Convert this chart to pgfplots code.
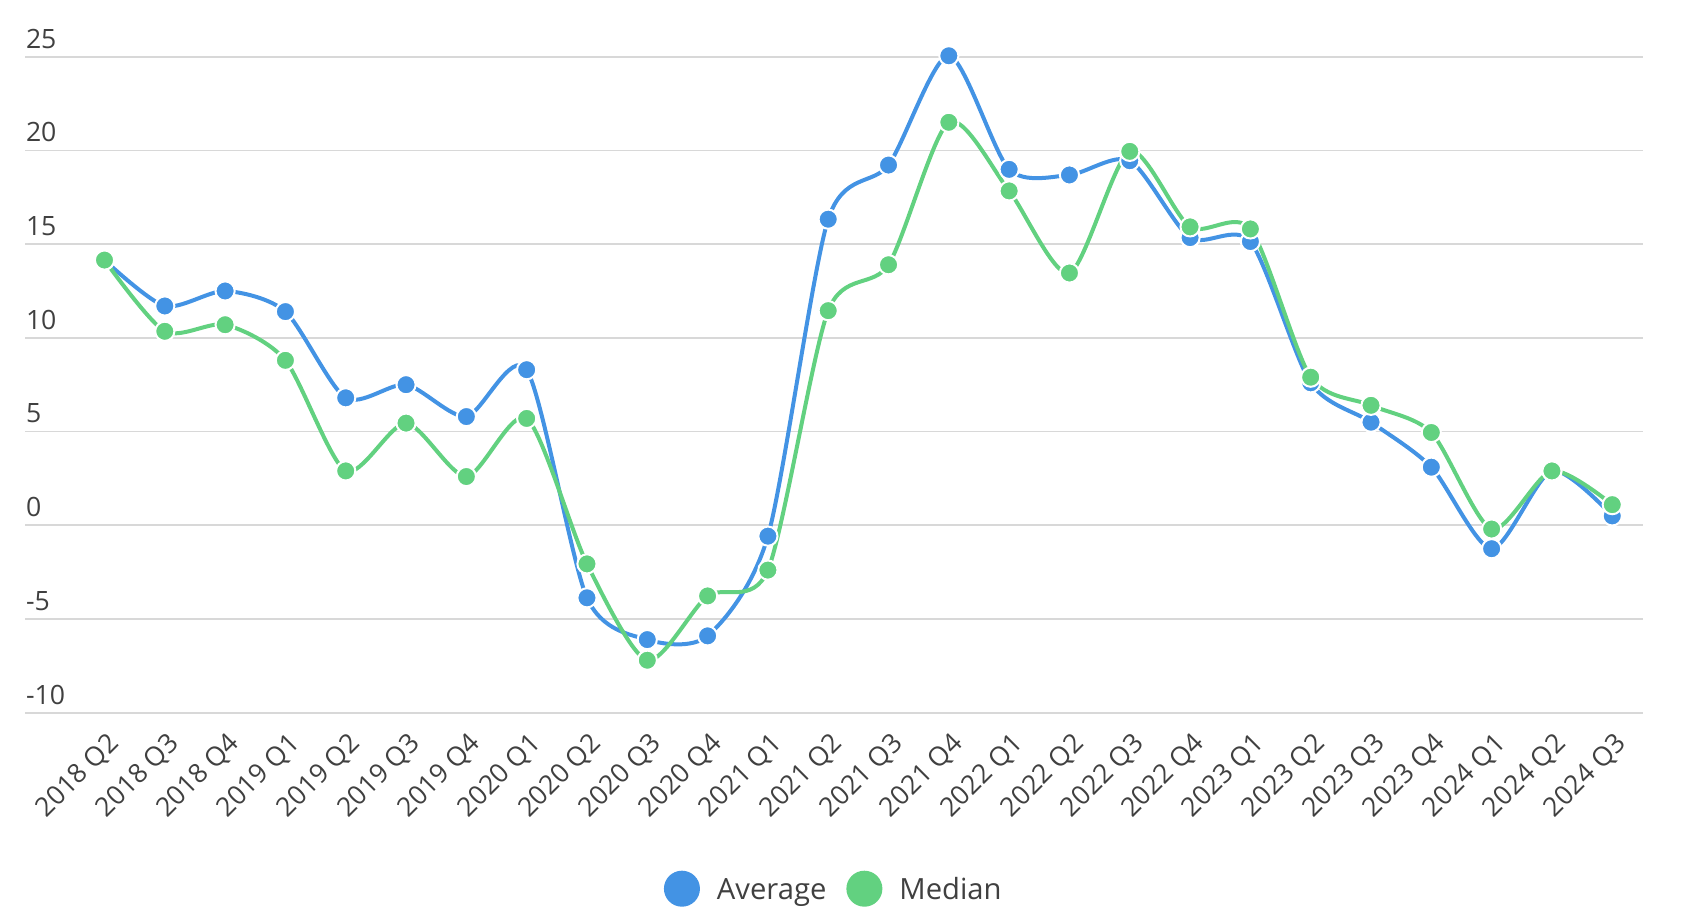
\documentclass[border=0pt]{standalone}
\usepackage{fontspec}
\setmainfont{Open Sans}
\usepackage{pgfplots}
\pgfplotsset{compat=1.18}
\definecolor{avgblue}{RGB}{67,147,228}
\definecolor{medgreen}{RGB}{98,209,128}
\definecolor{txt}{RGB}{64,64,64}
\definecolor{gridc}{RGB}{216,216,216}
\begin{document}
\begin{tikzpicture}
\useasboundingbox (-12.5pt,-101.65pt) rectangle (831.5pt,356.35pt);
\begin{axis}[
  at={(0pt,0pt)}, anchor=south west,
  width=809pt, height=328pt, scale only axis,
  xmin=-1.318, xmax=25.51, ymin=-10, ymax=25,
  axis line style={draw=none},
  ytick={-10,-5,0,5,10,15,20,25},
  yticklabels={-10,-5,0,5,10,15,20,25},
  ymajorgrids, major grid style={gridc, line width=0.85pt},
  major tick length=0pt, tick style={draw=none},
  xtick={0,...,25},
  xticklabels={2018 Q2,2018 Q3,2018 Q4,2019 Q1,2019 Q2,2019 Q3,2019 Q4,2020 Q1,2020 Q2,2020 Q3,2020 Q4,2021 Q1,2021 Q2,2021 Q3,2021 Q4,2022 Q1,2022 Q2,2022 Q3,2022 Q4,2023 Q1,2023 Q2,2023 Q3,2023 Q4,2024 Q1,2024 Q2,2024 Q3},
  xticklabel style={xshift=5.2pt, yshift=-13.3pt, rotate=45, anchor=east, inner sep=0pt, font=\fontsize{13.3}{16}\selectfont, text=txt},
  yticklabel style={anchor=base west, inner sep=0pt, xshift=0.3pt, yshift=4.35pt, font=\fontsize{13.3}{16}\selectfont, text=txt},
  clip=false,
  legend style={at={(0.3949,-0.2683)}, anchor=west, draw=none, fill=none, inner sep=0pt, outer sep=0pt,
    font=\fontsize{14.6}{17}\selectfont, text=txt, legend columns=2, column sep=0pt,
    nodes={inner sep=0pt, text height=10.4pt, text depth=3.5pt},
    /tikz/every even column/.append style={column sep=10pt}},
  legend cell align=left,
]
\addplot[avgblue, line width=2pt, smooth, tension=0.45, mark=*, mark size=4.8pt,
  mark options={fill=avgblue, draw=white, line width=1pt, solid},
  legend image code/.code={\fill[avgblue] (8pt,1.75pt) circle (8pt); \path[draw=none] (0pt,1.75pt) -- (25.5pt,1.75pt);}]
coordinates {
(0,14.15) (1,11.7) (2,12.5) (3,11.4) (4,6.8) (5,7.5) (6,5.8) (7,8.3)
(8,-3.87) (9,-6.1) (10,-5.9) (11,-0.58) (12,16.33) (13,19.22) (14,25.05)
(15,18.99) (16,18.69) (17,19.45) (18,15.35) (19,15.14) (20,7.6) (21,5.5)
(22,3.1) (23,-1.25) (24,2.9) (25,0.5)
};
\addlegendentry{Average}
\addplot[medgreen, line width=2pt, smooth, tension=0.45, mark=*, mark size=4.8pt,
  mark options={fill=medgreen, draw=white, line width=1pt, solid},
  legend image code/.code={\fill[medgreen] (8pt,1.75pt) circle (8pt); \path[draw=none] (0pt,1.75pt) -- (25.5pt,1.75pt);}]
coordinates {
(0,14.15) (1,10.35) (2,10.7) (3,8.8) (4,2.9) (5,5.45) (6,2.6) (7,5.7)
(8,-2.06) (9,-7.2) (10,-3.77) (11,-2.39) (12,11.45) (13,13.9) (14,21.5)
(15,17.84) (16,13.46) (17,19.95) (18,15.92) (19,15.81) (20,7.9) (21,6.4)
(22,4.95) (23,-0.2) (24,2.9) (25,1.1)
};
\addlegendentry{Median}
\end{axis}
\end{tikzpicture}
\end{document}
